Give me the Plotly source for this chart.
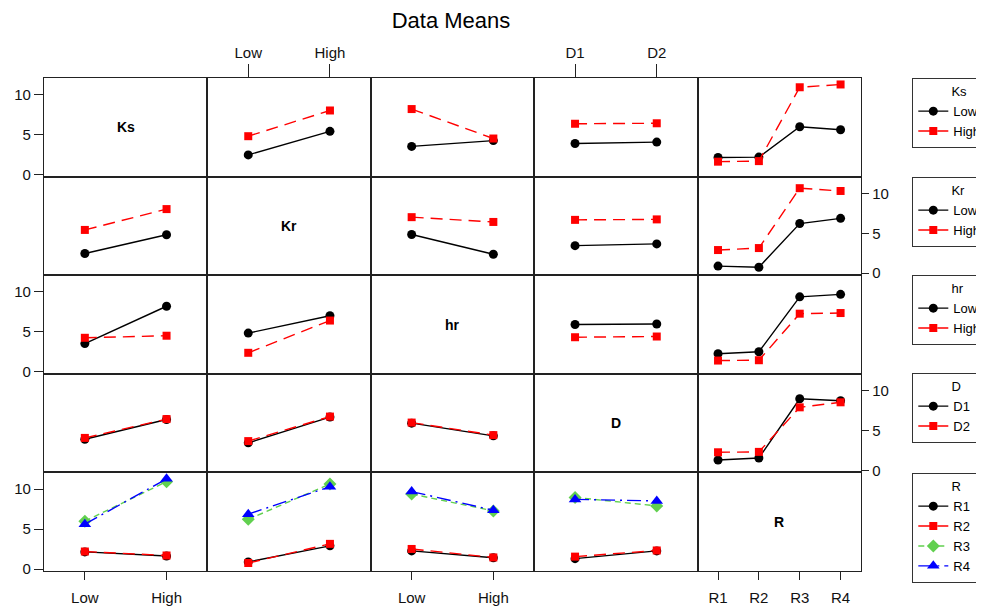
import plotly.graph_objects as go

# ---------------- data ----------------
factors = ["Ks", "Kr", "hr", "D", "R"]
levels = {
    "Ks": ["Low", "High"],
    "Kr": ["Low", "High"],
    "hr": ["Low", "High"],
    "D": ["D1", "D2"],
    "R": ["R1", "R2", "R3", "R4"],
}

# cell means: rows = levels of first factor, cols = levels of second factor
ks_kr = [[2.47, 5.42], [4.81, 8.03]]
ks_hr = [[3.53, 4.26], [8.21, 4.52]]
ks_d = [[3.90, 4.07], [6.37, 6.43]]
ks_r = [[2.14, 2.19, 5.99, 5.62], [1.62, 1.69, 10.94, 11.29]]
kr_hr = [[4.85, 2.38], [7.02, 6.42]]
kr_d = [[3.45, 3.67], [6.68, 6.74]]
kr_r = [[0.89, 0.75, 6.22, 6.87], [2.90, 3.15, 10.65, 10.30]]
hr_d = [[5.92, 5.99], [4.33, 4.42]]
hr_r = [[2.27, 2.51, 9.39, 9.70], [1.41, 1.45, 7.28, 7.36]]
d_r = [[1.30, 1.55, 8.97, 8.72], [2.27, 2.32, 7.90, 8.53]]

tables = {
    ("Ks", "Kr"): ks_kr, ("Ks", "hr"): ks_hr, ("Ks", "D"): ks_d, ("Ks", "R"): ks_r,
    ("Kr", "hr"): kr_hr, ("Kr", "D"): kr_d, ("Kr", "R"): kr_r,
    ("hr", "D"): hr_d, ("hr", "R"): hr_r, ("D", "R"): d_r,
}

y_ticks = [0, 5, 10]

# ---------------- styles ----------------
colors = ["#000000", "#FF0000", "#61D04F", "#0000FF"]
symbols = ["circle", "square", "diamond", "triangle-up"]
msizes = [9, 8, 10, 11]
dashes = ["solid", "12px,7px", "6px,4px", "14px,5px,2px,5px"]
FONT = "Liberation Sans, Arial, sans-serif"
AXC = "#222222"


def cell_mean(fa, ia, fb, ib):
    if (fa, fb) in tables:
        return tables[(fa, fb)][ia][ib]
    return tables[(fb, fa)][ib][ia]


# ---------------- geometry (screen pixels; page body has an 8px margin) ----------------
OFF = 8
W, H = 984 - OFF, 606 - OFF


def px(X):
    return (X - OFF) / W


def py(Y):
    return 1 - (Y - OFF) / H


L, R_, T, B = 44.0, 861.0, 78.0, 571.0
n = len(factors)
cw = (R_ - L) / n
rh = (B - T) / n

fig = go.Figure()
layout = {}
annotations = []

for r, fr in enumerate(factors):
    for c, fc in enumerate(factors):
        k = r * n + c + 1
        xa = "xaxis" + ("" if k == 1 else str(k))
        ya = "yaxis" + ("" if k == 1 else str(k))
        xref = "x" + ("" if k == 1 else str(k))
        yref = "y" + ("" if k == 1 else str(k))
        x0 = px(L + c * cw)
        x1 = px(L + (c + 1) * cw)
        y1 = py(T + r * rh)
        y0 = py(T + (r + 1) * rh)
        nl = len(levels[fc])

        xdict = dict(domain=[x0, x1], anchor=yref, type="category",
                     categoryorder="array", categoryarray=levels[fc],
                     range=[-0.5, nl - 0.5], showline=True, mirror=True,
                     linecolor=AXC, linewidth=1.3, showgrid=False, zeroline=False,
                     tickfont=dict(size=15, family=FONT, color="#111"),
                     fixedrange=True)
        show_bottom = (r == n - 1 and c % 2 == 0)
        show_top = (r == 0 and c % 2 == 1)
        if show_bottom:
            xdict.update(side="bottom", ticks="outside", ticklen=8, tickwidth=1.3,
                         tickcolor=AXC, showticklabels=True, ticklabelstandoff=5)
        elif show_top:
            xdict.update(side="top", ticks="outside", ticklen=13, tickwidth=1.3,
                         tickcolor=AXC, showticklabels=True)
        else:
            xdict.update(ticks="", showticklabels=False)
        layout[xa] = xdict

        ydict = dict(domain=[y0, y1], anchor=xref, range=[-0.25, 12.1],
                     showline=True, mirror=True, linecolor=AXC, linewidth=1.3,
                     showgrid=False, zeroline=False, tickvals=y_ticks,
                     tickfont=dict(size=15, family=FONT, color="#111"),
                     fixedrange=True)
        show_left = (c == 0 and r % 2 == 0)
        show_right = (c == n - 1 and r % 2 == 1)
        if show_left:
            ydict.update(side="left", ticks="outside", ticklen=9, tickwidth=1.3,
                         tickcolor=AXC, showticklabels=True)
        elif show_right:
            ydict.update(side="right", ticks="outside", ticklen=7, tickwidth=1.3,
                         tickcolor=AXC, showticklabels=True)
        else:
            ydict.update(ticks="", showticklabels=False)
        layout[ya] = ydict

        if r == c:
            # empty trace so the diagonal subplot (frame + axes) is created
            fig.add_trace(go.Scatter(x=[], y=[], xaxis=xref, yaxis=yref,
                                     showlegend=False, hoverinfo="skip"))
            annotations.append(dict(text="<b>%s</b>" % fr, x=0.5, y=0.5,
                                    xref=xref + " domain", yref=yref + " domain",
                                    showarrow=False,
                                    font=dict(size=14, family=FONT, color="#000")))
            continue

        first_col = 1 if r == 0 else 0
        leg = "legend" + ("" if r == 0 else str(r + 1))
        for i, lv in enumerate(levels[fr]):
            yv = [cell_mean(fr, i, fc, j) for j in range(nl)]
            fig.add_trace(go.Scatter(
                x=levels[fc], y=yv, xaxis=xref, yaxis=yref, mode="lines+markers",
                name=lv, legend=leg, legendgroup="%s_%s" % (fr, lv),
                showlegend=(c == first_col),
                line=dict(color=colors[i], width=1.4, dash=dashes[i]),
                marker=dict(color=colors[i], symbol=symbols[i], size=msizes[i],
                            line=dict(width=0)),
                cliponaxis=False, hoverinfo="skip"))

legend_tops = [78, 177, 275, 373, 473]
for r, fr in enumerate(factors):
    key = "legend" + ("" if r == 0 else str(r + 1))
    layout[key] = dict(
        x=px(912), y=py(legend_tops[r]), xanchor="left", yanchor="top",
        xref="paper", yref="paper",
        bordercolor="#333333", borderwidth=1.3, bgcolor="white",
        font=dict(size=13, family=FONT, color="#000"),
        title=dict(text="\u00a0" * 10 + fr, side="top",
                   font=dict(size=13, family=FONT, color="#000")),
        itemwidth=30, tracegroupgap=0, traceorder="normal", itemclick=False,
    )

fig.update_layout(
    width=W, height=H,
    margin=dict(l=0, r=0, t=0, b=0, autoexpand=False),
    paper_bgcolor="white", plot_bgcolor="white",
    showlegend=True,
    title=dict(text="Data Means", x=px(451), xanchor="center", y=py(20),
               yanchor="middle", font=dict(size=22, family=FONT, color="#000")),
    annotations=annotations,
    **layout,
)

fig.write_html("out.html")
